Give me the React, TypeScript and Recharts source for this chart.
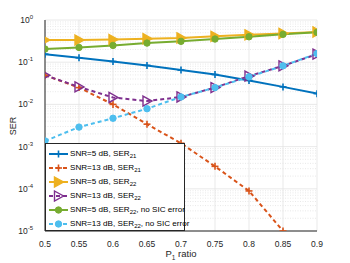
import { LineChart, Line, XAxis, YAxis, CartesianGrid, ReferenceLine } from "recharts";

const pRatio = [0.5, 0.55, 0.6, 0.65, 0.7, 0.75, 0.8, 0.85, 0.9];
const ser21Snr5 = [0.155, 0.127, 0.104, 0.084, 0.065, 0.051, 0.037, 0.026, 0.018];
const ser21Snr13 = [0.049, 0.025, 0.01, 0.0034, 0.0012, 0.00034, 0.000089, 0.00001, null];
const ser22Snr5 = [0.335, 0.335, 0.345, 0.36, 0.375, 0.41, 0.445, 0.48, 0.52];
const ser22Snr13 = [0.049, 0.026, 0.0146, 0.012, 0.015, 0.025, 0.047, 0.082, 0.155];
const ser22Snr5NoSic = [0.205, 0.224, 0.25, 0.284, 0.312, 0.354, 0.4, 0.457, 0.51];
const ser22Snr13NoSic = [0.00136, 0.0029, 0.0047, 0.0079, 0.015, 0.025, 0.045, 0.082, 0.16];

const xTicks = [0.5, 0.55, 0.6, 0.65, 0.7, 0.75, 0.8, 0.85, 0.9];
const yExps = [0, -1, -2, -3, -4, -5];
const yTicks = yExps.map(e => Math.pow(10, e));
const minorTicks = [-5, -4, -3, -2, -1].flatMap(e => [2, 3, 4, 5, 6, 7, 8, 9].map(m => m * Math.pow(10, e)));

const C = {
  blue: "#0072BD", orange: "#D95319", yellow: "#EDB120",
  purple: "#7E2F8E", green: "#77AC30", cyan: "#4DBEEE",
};

const data = pRatio.map((p, i) => ({
  p,
  a: ser21Snr5[i], b: ser21Snr13[i], c: ser22Snr5[i],
  d: ser22Snr13[i], e: ser22Snr5NoSic[i], f: ser22Snr13NoSic[i],
}));

const FONT = "'Liberation Sans', Arial, sans-serif";

type Mk = "plus" | "tri" | "triOpen" | "circle";

function marker(kind: Mk, color: string, cx: number, cy: number, key?: any) {
  if (cx == null || cy == null || isNaN(cx) || isNaN(cy)) return <g key={key} />;
  if (kind === "plus") return (
    <g key={key} stroke={color} strokeWidth={1.6}>
      <line x1={cx - 3.5} y1={cy} x2={cx + 3.5} y2={cy} />
      <line x1={cx} y1={cy - 3.5} x2={cx} y2={cy + 3.5} />
    </g>
  );
  if (kind === "circle") return <circle key={key} cx={cx} cy={cy} r={3.2} fill={color} stroke={color} />;
  const pts = `${cx - 4},${cy - 5} ${cx + 5},${cy} ${cx - 4},${cy + 5}`;
  return <polygon key={key} points={pts} fill={kind === "tri" ? color : "none"} stroke={color} strokeWidth={1.4} />;
}

const dotFor = (kind: Mk, color: string) => (props: any) => marker(kind, color, props.cx, props.cy, props.key ?? props.index);

function YTick({ x, y, payload }: any) {
  const e = Math.round(Math.log10(payload.value));
  return (
    <text x={x - 4} y={y + 3} textAnchor="end" fontSize={8.5} fill="#262626" fontFamily={FONT}>
      10<tspan dy={-4} fontSize={6}>{e}</tspan>
    </text>
  );
}

function XTick({ x, y, payload }: any) {
  return (
    <text x={x} y={y + 8} textAnchor="middle" fontSize={8.5} fill="#262626" fontFamily={FONT}>
      {payload.value}
    </text>
  );
}

const legendRows: { snr: string; sub: string; extra: string; color: string; dash: boolean; mk: Mk }[] = [
  { snr: "5", sub: "21", extra: "", color: C.blue, dash: false, mk: "plus" },
  { snr: "13", sub: "21", extra: "", color: C.orange, dash: true, mk: "plus" },
  { snr: "5", sub: "22", extra: "", color: C.yellow, dash: false, mk: "tri" },
  { snr: "13", sub: "22", extra: "", color: C.purple, dash: true, mk: "triOpen" },
  { snr: "5", sub: "22", extra: ", no SIC error", color: C.green, dash: false, mk: "circle" },
  { snr: "13", sub: "22", extra: ", no SIC error", color: C.cyan, dash: true, mk: "circle" },
];

function LegendBox() {
  return (
    <div style={{
      position: "absolute", left: 45, top: 143, width: 140, height: 88, boxSizing: "border-box",
      border: "1px solid #262626", background: "#fff", fontFamily: FONT, fontSize: 8.1, color: "#000",
      paddingTop: 3,
    }}>
      {legendRows.map((r, i) => (
        <div key={i} style={{ height: 14, display: "flex", alignItems: "center", whiteSpace: "nowrap" }}>
          <svg width={22} height={12} style={{ marginLeft: 2, marginRight: 0, flex: "none" }}>
            <line x1={1} y1={6} x2={20} y2={6} stroke={r.color} strokeWidth={2} strokeDasharray={r.dash ? "4 3" : undefined} />
            {marker(r.mk, r.color, 10.5, 6)}
          </svg>
          <span>SNR={r.snr} dB, SER<sub style={{ fontSize: 6, verticalAlign: -2 }}>{r.sub}</sub>{r.extra}</span>
        </div>
      ))}
    </div>
  );
}

export default function App() {
  return (
    <div style={{ position: "absolute", left: 0, top: 0, width: 350, height: 263, background: "#fff", overflow: "hidden" }}>
      <LineChart width={350} height={263} data={data} margin={{ top: 20, right: 33, bottom: 0, left: 0 }}>
        <CartesianGrid yAxisId="main" stroke="#e3e3e3" strokeWidth={0.8} />
        {minorTicks.map(v => (
          <ReferenceLine key={v} yAxisId="main" y={v} stroke="#e3e3e3" strokeWidth={0.8} strokeDasharray="1 1.5" ifOverflow="discard" />
        ))}
        <XAxis dataKey="p" type="number" domain={[0.5, 0.9]} ticks={xTicks} height={32} interval={0}
          tick={<XTick />} tickLine={false} stroke="#262626" allowDataOverflow />
        <XAxis xAxisId="top" dataKey="p" type="number" domain={[0.5, 0.9]} orientation="top" height={0}
          tick={false} tickLine={false} stroke="#262626" />
        <YAxis yAxisId="main" scale="log" type="number" domain={[1e-5, 1]} ticks={yTicks} width={45} interval={0}
          tick={<YTick />} tickLine={false} stroke="#262626" allowDataOverflow />
        <YAxis yAxisId="right" orientation="right" scale="log" type="number" domain={[1e-5, 1]} width={0}
          tick={false} tickLine={false} stroke="#262626" />
        <Line yAxisId="main" dataKey="a" stroke={C.blue} strokeWidth={2} dot={dotFor("plus", C.blue)} isAnimationActive={false} />
        <Line yAxisId="main" dataKey="b" stroke={C.orange} strokeWidth={2} strokeDasharray="4 3" dot={dotFor("plus", C.orange)} isAnimationActive={false} />
        <Line yAxisId="main" dataKey="c" stroke={C.yellow} strokeWidth={2} dot={dotFor("tri", C.yellow)} isAnimationActive={false} />
        <Line yAxisId="main" dataKey="d" stroke={C.purple} strokeWidth={2} strokeDasharray="4 3" dot={dotFor("triOpen", C.purple)} isAnimationActive={false} />
        <Line yAxisId="main" dataKey="e" stroke={C.green} strokeWidth={2} dot={dotFor("circle", C.green)} isAnimationActive={false} />
        <Line yAxisId="main" dataKey="f" stroke={C.cyan} strokeWidth={2} strokeDasharray="4 3" dot={dotFor("circle", C.cyan)} isAnimationActive={false} />
        <text x={16} y={126} transform="rotate(-90 16 126)" textAnchor="middle" fontSize={9} fill="#262626" fontFamily={FONT}>SER</text>
        <text x={181} y={257} textAnchor="middle" fontSize={9.5} fill="#262626" fontFamily={FONT}>
          P<tspan dy={3} fontSize={6.5}>1</tspan><tspan dy={-3}> ratio</tspan>
        </text>
      </LineChart>
      <LegendBox />
    </div>
  );
}
